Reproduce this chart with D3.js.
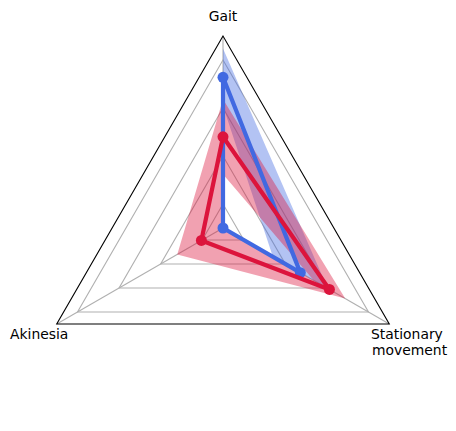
<!DOCTYPE html>
<html>
<head>
<meta charset="utf-8">
<script src="https://cdn.jsdelivr.net/npm/d3@7"></script>
<style>
  body { margin: 0; background: #fff; }
  text { font-family: "DejaVu Sans", sans-serif; font-size: 13.9px; fill: #000; }
</style>
</head>
<body>
<svg id="svg"></svg>
<script>
// axis names, counter-clockwise from the top
var categories = ["Gait", "Akinesia", "Stationary movement"];
var gridTicks = [0, 0.5, 1, 1.5];
var blueMean = [1.32, -0.25, 0.68];
var blueStd  = [0.30, 0, 0.33];
var redMean  = [0.70, 0.01, 1.03];
var redStd   = [0.39, 0.29, 0.19];

var width = 456, height = 431;
var cx = 223, cy = 228, radius = 192;

var svg = d3.select("#svg")
    .attr("width", width)
    .attr("height", height);

var g = svg.append("g").attr("transform", "translate(" + cx + "," + cy + ")");

var r = d3.scaleLinear()
    .domain([-0.25, 1.75])
    .range([0, radius])
    .clamp(true);

var angle = function(i) { return -i * 2 * Math.PI / categories.length; };

var radial = d3.lineRadial()
    .angle(function(d, i) { return angle(i); })
    .radius(function(d) { return r(d); })
    .curve(d3.curveLinearClosed);

var pt = function(v, i) {
  return [r(v) * Math.sin(angle(i)), -r(v) * Math.cos(angle(i))];
};

// grid polygons
gridTicks.forEach(function(t) {
  g.append("path")
    .attr("d", radial(categories.map(function() { return t; })))
    .attr("fill", "none")
    .attr("stroke", "#b0b0b0")
    .attr("stroke-width", 1.1);
});

// spokes
categories.forEach(function(c, i) {
  var p = pt(1.75, i);
  g.append("line")
    .attr("x1", 0).attr("y1", 0)
    .attr("x2", p[0]).attr("y2", p[1])
    .attr("stroke", "#b0b0b0")
    .attr("stroke-width", 1.1);
});

// outer frame
g.append("path")
  .attr("d", radial(categories.map(function() { return 1.75; })))
  .attr("fill", "none")
  .attr("stroke", "#000")
  .attr("stroke-width", 1.1);

// mean +/- std band: outer ring minus inner ring
function band(mean, std, color) {
  var upper = mean.map(function(m, i) { return m + std[i]; });
  var lower = mean.map(function(m, i) { return m - std[i]; });
  var lp = lower.map(pt).reverse();
  var d = radial(upper) + "M" + lp.map(function(p) { return p.join(","); }).join("L") + "Z";
  g.append("path")
    .attr("d", d)
    .attr("fill", color)
    .attr("fill-opacity", 0.4)
    .attr("fill-rule", "evenodd")
    .attr("stroke", "none");
}
band(blueMean, blueStd, "royalblue");
band(redMean, redStd, "crimson");

function series(mean, color) {
  g.append("path")
    .attr("d", radial(mean))
    .attr("fill", "none")
    .attr("stroke", color)
    .attr("stroke-width", 4.2)
    .attr("stroke-linejoin", "round");
  g.selectAll(null)
    .data(mean)
    .enter().append("circle")
    .attr("cx", function(d, i) { return pt(d, i)[0]; })
    .attr("cy", function(d, i) { return pt(d, i)[1]; })
    .attr("r", 5.5)
    .attr("fill", color);
}
series(blueMean, "royalblue");
series(redMean, "crimson");

// labels
svg.append("text").attr("x", 223).attr("y", 21).attr("text-anchor", "middle").text(categories[0]);
svg.append("text").attr("x", 10).attr("y", 339).text(categories[1]);
var st = svg.append("text").attr("y", 339);
st.append("tspan").attr("x", 371).text(categories[2].split(" ")[0]);
st.append("tspan").attr("x", 372).attr("dy", 16).text(categories[2].split(" ")[1]);
</script>
</body>
</html>
